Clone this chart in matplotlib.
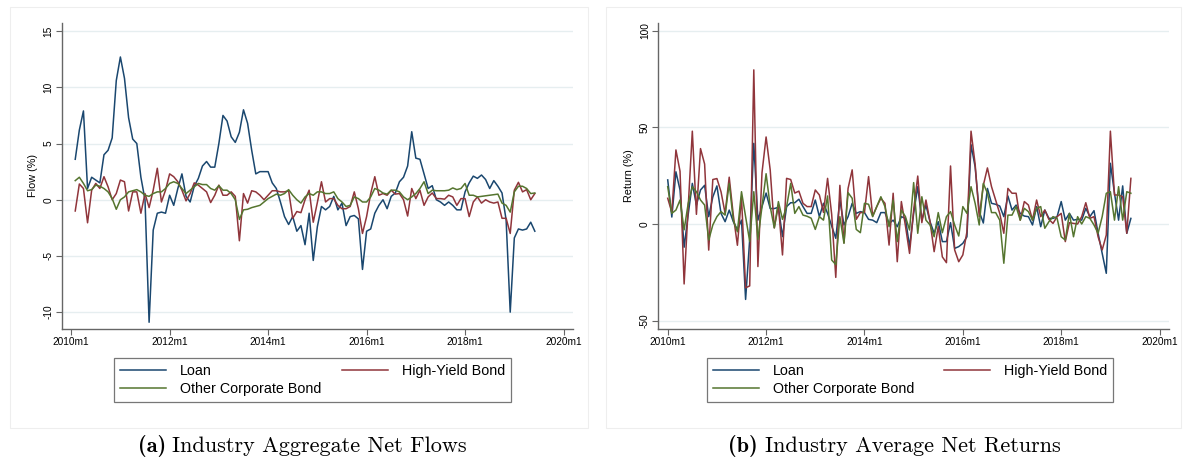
import numpy as np
import matplotlib.pyplot as plt
from matplotlib.patches import Rectangle

# months since 2010m1
flow_months = np.arange(1, 114)
ret_months = np.arange(0, 114)

loan_flow = [3.6, 6.2, 7.9, 1.0, 2.0, 1.75, 1.5, 4.0, 4.4, 5.5,
             10.6, 12.7, 10.8, 7.3, 5.4, 5.0, 2.0, 0.0, -10.9, -2.7,
             -1.2, -1.1, -1.2, 0.4, -0.5, 1.0, 2.3, 0.3, -0.2, 1.2,
             1.9, 3.0, 3.4, 2.9, 2.9, 5.0, 7.5, 7.0, 5.6, 5.1,
             6.0, 8.0, 6.8, 4.4, 2.3, 2.5, 2.5, 2.5, 1.5, 1.0,
             -0.2, -1.5, -2.2, -1.5, -2.8, -2.3, -4.0, -1.2, -5.4, -2.4,
             -0.6, -0.9, -0.6, 0.3, -0.9, -0.3, -2.3, -1.5, -1.4, -1.7,
             -6.2, -2.8, -2.6, -1.2, -0.5, 0.0, -0.8, 0.3, 0.6, 1.6,
             2.0, 3.0, 6.05, 3.7, 3.6, 2.3, 1.0, 1.25, 0.0, -0.2,
             -0.5, -0.2, -0.5, -0.9, -0.9, 0.7, 1.5, 2.1, 1.9, 2.2,
             1.8, 1.0, 1.7, 1.2, 0.6, -1.8, -10.0, -3.4, -2.6, -2.7,
             -2.6, -2.0, -2.8]
hy_flow = [-1.0, 1.4, 1.0, -2.05, 0.85, 1.45, 1.0, 2.05, 1.15, 0.0,
           0.55, 1.75, 1.6, -1.0, 0.7, 0.7, -1.2, 0.55, -0.7, 0.85,
           2.8, -0.2, 0.85, 2.3, 2.05, 1.6, 0.85, -0.1, 0.55, 1.5,
           1.3, 1.0, 0.7, -0.25, 0.4, 1.3, 0.4, 0.4, 0.7, 0.3,
           -3.65, 0.55, -0.3, 0.8, 0.7, 0.4, 0.0, 0.4, 0.8, 0.8,
           0.7, 0.7, 0.8, -1.65, -1.05, -1.15, 0.0, 0.85, -2.0, -0.25,
           1.6, -0.2, 0.1, 0.1, -0.5, -0.8, -0.8, -0.6, 0.7, -0.8,
           -3.0, -1.5, 0.55, 2.05, 0.4, 0.55, 0.4, 0.85, 0.5, 0.55,
           0.0, -1.45, 1.0, 0.1, 0.85, -0.5, 0.25, 0.6, 0.1, 0.1,
           0.05, 0.4, 0.25, -0.5, 0.1, 0.1, -1.5, -0.2, 0.25, -0.3,
           0.0, -0.2, -0.3, -0.2, -1.65, -1.65, -3.0, 0.85, 1.55, 0.7,
           0.9, 0.0, 0.55]
other_flow = [1.7, 2.0, 1.45, 0.8, 0.9, 1.3, 1.2, 1.0, 0.7, 0.1,
              -0.85, 0.0, 0.25, 0.7, 0.8, 0.9, 0.7, 0.4, 0.3, 0.55,
              0.7, 0.7, 1.0, 1.45, 1.6, 1.45, 1.0, 0.55, 0.85, 1.15,
              1.45, 1.35, 1.35, 1.0, 0.85, 1.25, 0.85, 0.85, 0.55, 0.0,
              -1.75, -0.9, -0.85, -0.7, -0.6, -0.5, -0.2, 0.1, 0.3, 0.5,
              0.4, 0.55, 0.9, 0.4, 0.0, -0.3, 0.25, 0.55, 0.4, 0.7,
              0.7, 0.55, 0.55, 0.7, 0.1, -0.2, -0.6, -0.5, 0.25, 0.1,
              -0.2, -0.2, 0.25, 1.0, 0.85, 0.6, 0.5, 0.85, 0.85, 0.7,
              0.25, 0.0, 0.25, 0.55, 1.0, 1.6, 0.55, 0.85, 0.8, 0.8,
              0.8, 0.85, 1.05, 0.9, 1.0, 1.45, 0.4, 0.4, 0.25, 0.3,
              0.35, 0.4, 0.45, 0.5, -0.3, -0.5, -1.1, 0.7, 1.2, 1.2,
              1.0, 0.55, 0.6]

loan_ret = [22.8, 3.6, 27, 17.6, -12, 5, 21, 9.8, 17.6, 20,
            3.8, 14, 19.7, 5.5, 1.2, 7.2, 1.2, -3, 2, -39,
            -8, 41.7, 2, 9, 16, 8, 8, 8.6, -6.5, 9,
            11, 11, 12.8, 9, 5.5, 5.5, 12.4, 3.8, 10.7, 5.5,
            -1, -7.4, 12.4, -0.5, 3.8, 10.7, 5.5, 6.4, 5.9, 2.4,
            2, 0.7, 5.9, 5.9, 0.3, 2, -1.4, 3.8, 2.9, -11.7,
            5.5, 19.3, 2, 9.8, 1.2, -4.8, 1.2, -9.1, -9.1, 0.7,
            -12.6, -11.7, -10, -6.6, 41, 29.5, 6.4, 0.5, 18.4, 10.7,
            10.2, 9.3, 3.8, 14.5, 7.2, 9.8, 5.5, 4.1, 3.8, -0.5,
            9, -1.4, 7.2, 2.9, 2.9, 3.8, 11.6, 2, 5.5, 2,
            2.4, 2, 8.1, 3.8, 6.9, -4.8, -15.2, -25.5, 31.4, 15.9,
            2, 19.7, -4.8, 2.9]
hy_ret = [13.3, 6, 38.3, 27.3, -31, 9, 48, 5, 39, 31,
          -13.5, 23, 23.5, 16.7, 5.5, 24.2, 4.5, -11, 14, -33,
          -32, 79.7, -22, 26.5, 45, 28, -2, 9.5, -16, 23.6,
          23, 16, 17, 10.7, 9, 9, 17.6, 15, 6, 23.6,
          5, -27.6, 20, -9.7, 18.4, 28, 2.4, 5.9, 5.9, 24.5,
          4.1, 9, 13.3, 10.7, -10.9, 15.9, -19.5, 11.6, -1, -15.2,
          7.2, 24.8, 0.7, 12.4, 1.2, -14.3, -1.4, -17, -20, 30,
          -13.4, -19.5, -16, -4, 48, 31, 3.8, 20, 29, 19.3,
          12.4, 5.5, -4.8, 18.4, 15.9, 15.9, 2, 11.6, 9.8, 2,
          12.4, 3.8, 7.2, 2.4, 0.3, 3.8, 5.5, -9.1, 0.7, 0.3,
          0, 3.8, 11, 2.9, 3.8, -6.6, -13.4, -5.7, 48, 15,
          15, 14.1, -4.8, 23.6]
other_ret = [19.3, 5.5, 7.2, 12.4, -3, 10.7, 19.3, 16.7, 12.4, 9.8,
             -8.3, -0.5, 3.8, 6.4, 4.6, 21, 2, -4, 16.7, 3.8,
             -9, 16.7, -8, 9, 26, 9, -2, 11.6, 2.4, 9,
             21, 5.5, 9, 4.6, 4, 3, -2.8, 3.8, 2, 14.5,
             -18.6, -21, 3.8, -10, 16.2, 13.3, -2.8, -4.5, 10.7, 10.2,
             3.8, 9, 14.1, 9, -1.4, 12.4, -9.1, 7.2, 3.8, -3.1,
             21.4, -4.8, 14.1, 2, -0.5, -6.6, 5.9, -4.5, 3.8, 6.4,
             -0.5, -6.2, 9, 5.5, 19.3, 10.7, -0.5, 21, 15.9, 5.9,
             5.9, 2, -20.3, 4.6, 4.6, 9, 2, 8.1, 6.4, 2,
             8.1, 9, -2.2, 1.2, 3.8, 2.9, -6.6, -8.3, 5.5, -6.6,
             3.8, 0, 3.8, 2.9, -0.5, -4.8, 3.8, 15.9, 16.7, 2,
             19.3, 2, 16.7, 15.9]

series_names = ['Loan', 'High-Yield Bond', 'Other Corporate Bond']
colors = ['#1a476f', '#90353b', '#55752f']
xtick_pos = [0, 24, 48, 72, 96, 120]
xtick_labels = ['2010m1', '2012m1', '2014m1', '2016m1', '2018m1', '2020m1']

W, H = 1183, 463
fig = plt.figure(figsize=(W / 100, H / 100), dpi=100)
plt.rcParams['font.family'] = ['Liberation Sans', 'DejaVu Sans']


def px_axes(x0, y0, x1, y1):
    return fig.add_axes([x0 / W, 1 - y1 / H, (x1 - x0) / W, (y1 - y0) / H])


def frame(x0, y0, x1, y1):
    fig.patches.append(Rectangle((x0 / W, 1 - y1 / H), (x1 - x0) / W, (y1 - y0) / H,
                                 transform=fig.transFigure, fill=False,
                                 edgecolor='#eeeeee', lw=0.8))


def panel(ax, months, data, yticks, ylim, ylabel):
    for ys, c, name in zip(data, colors, series_names):
        ax.plot(months, ys, color=c, lw=1.1, label=name)
    ax.set_xlim(-2.3, 122.3)
    ax.set_ylim(*ylim)
    ax.set_yticks(yticks)
    ax.set_yticklabels([str(t) for t in yticks], rotation=90, va='center', fontsize=7.3)
    ax.set_xticks(xtick_pos)
    ax.set_xticklabels(xtick_labels, fontsize=7.3)
    ax.grid(axis='y', color='#e6eef0', lw=1)
    ax.set_axisbelow(True)
    for s in ['top', 'right']:
        ax.spines[s].set_visible(False)
    for s in ['left', 'bottom']:
        ax.spines[s].set_color('#666666')
        ax.spines[s].set_linewidth(1)
    ax.tick_params(length=4, color='#666666', pad=2)
    ax.set_ylabel(ylabel, fontsize=7.8, labelpad=4)
    h, l = ax.get_legend_handles_labels()
    order = [0, 2, 1]
    return [h[i] for i in order], [l[i] for i in order]


frame(10, 7, 588, 428)
frame(606, 7, 1181, 428)

ax1 = px_axes(61.7, 22.7, 573, 329)
h, l = panel(ax1, flow_months, [loan_flow, hy_flow, other_flow],
             [-10, -5, 0, 5, 10, 15], (-11.5, 15.75), 'Flow (%)')
ax2 = px_axes(658.3, 22.7, 1169, 329)
panel(ax2, ret_months, [loan_ret, hy_ret, other_ret],
      [-50, 0, 50, 100], (-54.3, 104.1), 'Return (%)')

for x0, x1 in [(107, 518), (700, 1120)]:
    leg = fig.legend(h, l, loc='center', ncol=2, mode='expand',
                     bbox_to_anchor=(x0 / W, 1 - 403 / H, (x1 - x0) / W, 46 / H),
                     fontsize=10.3, frameon=True, fancybox=False, handlelength=3.2,
                     borderpad=0.4, labelspacing=0.3, handletextpad=1.0)
    leg.get_frame().set_edgecolor('#555555')
    leg.get_frame().set_linewidth(0.9)

cap_y = 1 - 452 / H
fig.text(166 / W, cap_y, '(a)', fontfamily='cmb10', fontsize=16,
         ha='right', va='baseline')
fig.text(172 / W, cap_y, 'Industry Aggregate Net Flows', fontfamily='cmr10',
         fontsize=16, ha='left', va='baseline')
fig.text(758 / W, cap_y, '(b)', fontfamily='cmb10', fontsize=16,
         ha='right', va='baseline')
fig.text(765 / W, cap_y, 'Industry Average Net Returns', fontfamily='cmr10',
         fontsize=16, ha='left', va='baseline')

fig.savefig('out.png', dpi=100)
